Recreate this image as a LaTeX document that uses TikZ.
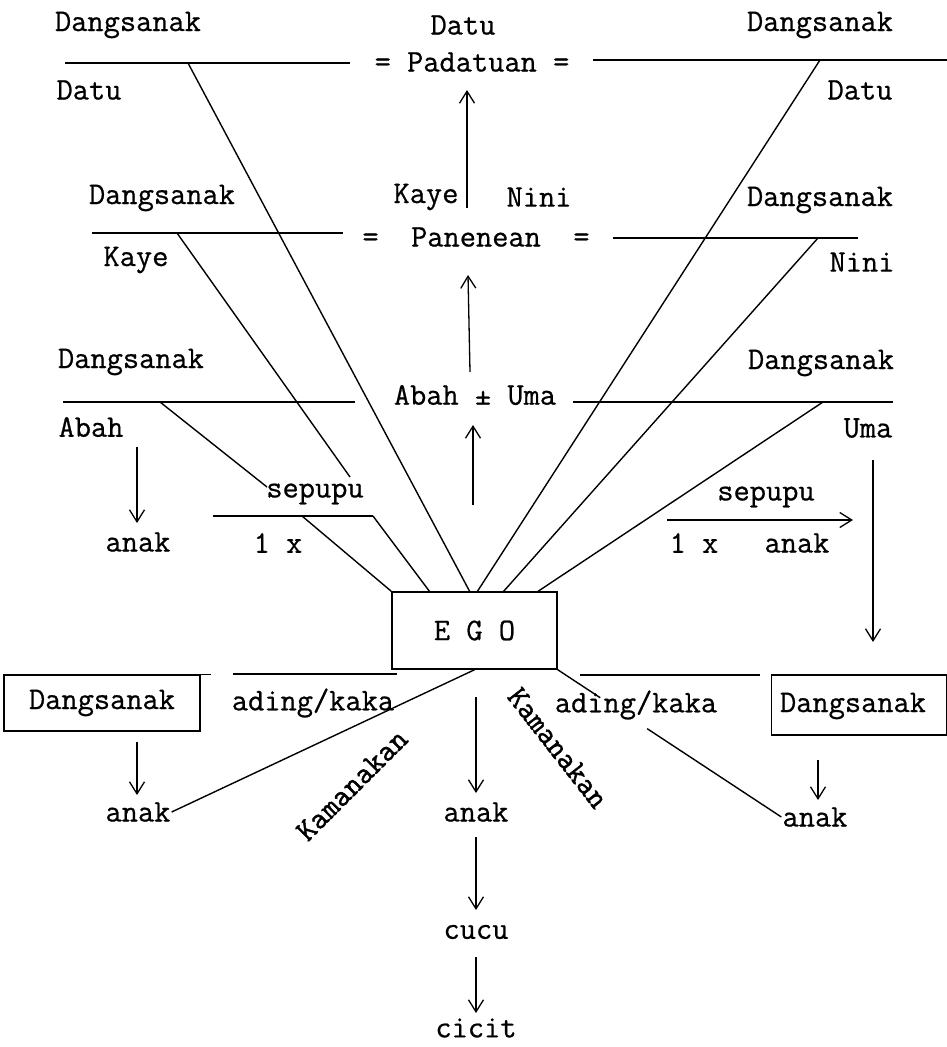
\documentclass[tikz,border=0pt]{standalone}
\usepackage{fontspec}
\newfontfamily\typefont{Latin Modern Mono}[FakeBold=0.7]
\newfontfamily\slantfont{Latin Modern Mono}[FakeBold=1.6]
\usetikzlibrary{arrows.meta,backgrounds,calc}

\begin{document}
\begin{tikzpicture}[
	x=1pt, y=-1pt,
	font=\fontsize{31.5}{35}\selectfont\typefont,
	>={Straight Barb[length=12pt,width=15pt]},
	term/.style={inner sep=1pt},
	kinbox/.style={rectangle, draw=black, line width=1.5pt, inner sep=0pt},
	rule/.style={line width=1.5pt},
	tie/.style={line width=1.4pt},
	arr/.style={->, line width=1.3pt},
	slant/.style={font=\fontsize{31}{34}\selectfont\slantfont, inner sep=0pt}
	]
	\useasboundingbox (0,0) rectangle (947,1047);
	%% ─── GENERATION +3 : DATU ───────────────────────────────────────────────
	\node[term] (dsL1) at (128,25) {Dangsanak};
	\node[term] (datuL) at (89,90) {Datu};
	\node[term] (datuC) at (463,25) {Datu};
	\node[term] (padatuan) at (472,62) {= Padatuan =};
	\node[term] (dsR1) at (820,25) {Dangsanak};
	\node[term] (datuR) at (860,90) {Datu};
	\coordinate (hL1a) at (65,63);  \coordinate (hL1b) at (350,63);
	\coordinate (hR1a) at (593,60); \coordinate (hR1b) at (947,60);
	\draw[rule] (hL1a) -- (hL1b);
	\draw[rule] (hR1a) -- (hR1b);
	
	%% ─── GENERATION +2 : KAYE / NINI ────────────────────────────────────────
	\node[term] (dsL2) at (162,198) {Dangsanak};
	\node[term] (kayeL) at (136,260) {Kaye};
	\node[term] (kaye) at (426,197) {Kaye};
	\node[term] (nini) at (539,197) {Nini};
	\node[term] (panenean) at (476,237) {=~~Panenean~~=};
	\node[term] (dsR2) at (820,200) {Dangsanak};
	\node[term] (niniR) at (862,262) {Nini};
	\coordinate (hL2a) at (92,233);  \coordinate (hL2b) at (343,233);
	\coordinate (hR2a) at (613,238); \coordinate (hR2b) at (858,238);
	\draw[rule] (hL2a) -- (hL2b);
	\draw[rule] (hR2a) -- (hR2b);
	
	%% ─── GENERATION +1 : ABAH / UMA ─────────────────────────────────────────
	\node[term] (dsL3) at (131,362) {Dangsanak};
	\node[term] (abahL) at (91,427) {Abah};
	\node[term] (abahuma) at (475,395) {Abah ± Uma};
	\node[term] (dsR3) at (821,363) {Dangsanak};
	\node[term] (umaR) at (868,428) {Uma};
	\coordinate (hL3a) at (63,402);  \coordinate (hL3b) at (355,402);
	\coordinate (hR3a) at (573,402); \coordinate (hR3b) at (893,402);
	\draw[rule] (hL3a) -- (hL3b);
	\draw[rule] (hR3a) -- (hR3b);
	
	%% ─── SEPUPU 1 x ─────────────────────────────────────────────────────────
	\node[term] (anakL1) at (138,542) {anak};
	\node[term] (sepupuL) at (315,494) {sepupu};
	\node[term] (satuxL) at (278,543) {1 x};
	\coordinate (hS1a) at (213,516); \coordinate (hS1b) at (373,516);
	\draw[rule] (hS1a) -- (hS1b);
	\node[term] (sepupuR) at (766,497) {sepupu};
	\node[term] (satuxR) at (694,543) {1 x};
	\node[term] (anakR1) at (797,543) {anak};
	\coordinate (sR1a) at (667,520); \coordinate (sR1b) at (853,520);
	\draw[arr] (sR1a) -- (sR1b);
	
	%% ─── EGO ────────────────────────────────────────────────────────────────
	\node[kinbox, minimum width=165pt, minimum height=77pt] (ego) at (474.5,630.5) {E G O};
	\coordinate (apexL) at (470,592);
	\coordinate (apexR) at (477,592);
	
	% lines up to the elder generations
	\draw[tie] (188,63) coordinate (dL1) -- (apexL);
	\draw[tie] (177,233) coordinate (dL2) -- (350,477) coordinate (dL2e);
	\draw[tie] (160,402) coordinate (dL3) -- (267,487) coordinate (dL3e);
	\draw[tie] (hS1b) -- (430,592) coordinate (dS1e);
	\draw[tie] (302,516) coordinate (dS2) -- (ego.north west);
	\draw[tie] (820,60) coordinate (dR1) -- (apexR);
	\draw[tie] (818,238) coordinate (dR2) -- (503,592) coordinate (dR2e);
	\draw[tie] (823,402) coordinate (dR3) -- (537,592) coordinate (dR3e);
	
	% arrows up the centre column
	\coordinate (kn) at (467,208);
	\draw[arr] (kn) -- (467,90) coordinate (knTop);
	\coordinate (au) at (470,372);
	\draw[arr] (au) -- (468,275) coordinate (auTop);
	\coordinate (eu) at (473,505);
	\draw[arr] (eu) -- (473,425) coordinate (euTop);
	
	% abah -> anak, uma -> down
	\draw[arr] (137,447) coordinate (abDown) -- (137,523);
	\coordinate (umaEnd) at (873,642);
	\draw[arr] (873,460) coordinate (umDown) -- (umaEnd);
	
	%% ─── GENERATION 0 / -1 ──────────────────────────────────────────────────
	\node[kinbox, minimum width=196pt, minimum height=56pt] (dsbL) at (102,703) {};
	\node[term] at (dsbL) {Dangsanak};
	\draw[rule] (dsbL.north west) -- ++(208,0);
	\node[kinbox, minimum width=175pt, minimum height=60pt] (dsbR) at (859,705) {};
	\node[term] at (853,706) {Dangsanak};
	\node[term] (adkL) at (313,703) {ading/kaka};
	\node[term] (adkR) at (636,705) {ading/kaka};
	\coordinate (hA1a) at (233,674); \coordinate (hA1b) at (397,674);
	\coordinate (hA2a) at (580,675); \coordinate (hA2b) at (760,675);
	\draw[rule] (hA1a) -- (hA1b);
	\draw[rule] (hA2a) -- (hA2b);
	
	\node[term] (anakL2) at (138,812) {anak};
	\node[term] (anakC) at (476,812) {anak};
	\node[term] (cucu) at (476,932) {cucu};
	\node[term] (cicit) at (476,1028) {cicit};
	\node[term] (anakR2) at (815,817) {anak};
	
	\draw[arr] (137,742) coordinate (dsbLs) -- (137,795);
	\draw[arr] (818,760) coordinate (dsbRs) -- (818,800);
	\draw[arr] (476,697) coordinate (egoS) -- (476,793);
	\draw[arr] (476,837) -- (476,910);
	\draw[arr] (476,957) -- (476,1013);
	
	% kamanakan ties
	\draw[tie] (anakL2.east) -- (ego.south);
	\path (ego.south east) -- (anakR2.west) coordinate[pos=0.19] (k1) coordinate[pos=0.40] (k2);
	\draw[tie] (ego.south east) -- (k1);
	\draw[tie] (k2) -- (anakR2.west);
	\node[slant, rotate=45] (kamL) at (352,785) {Kamanakan};
	\node[slant, rotate=-52] (kamR) at (558,748) {Kamanakan};
\end{tikzpicture}
\end{document}
